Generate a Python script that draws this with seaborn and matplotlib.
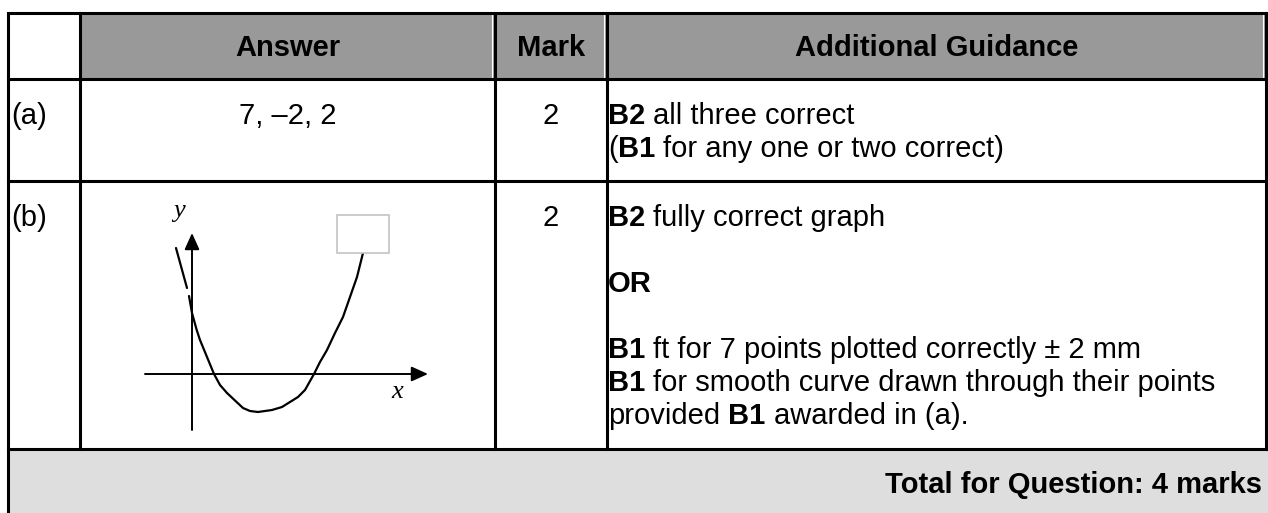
import matplotlib
matplotlib.use("Agg")
import matplotlib.pyplot as plt
from matplotlib.patches import Rectangle
import seaborn as sns
import pandas as pd

sns.set_theme(style="white")
plt.rcParams['font.family'] = ['Liberation Sans', 'DejaVu Sans']
plt.rcParams['text.color'] = 'black'

# ---- table content ----
col_heads = ["Answer", "Mark", "Additional Guidance"]
part_labels = ["(a)", "(b)"]
answers = ["7, \u20132, 2", ""]
marks = ["2", "2"]
guidance_a = [
    [("B2", "bold"), (" all three correct", "normal")],
    [("(", "normal"), ("B1", "bold"), (" for any one or two correct)", "normal")],
]
guidance_b = [
    [("B2", "bold"), (" fully correct graph", "normal")],
    [],
    [("OR", "bold")],
    [],
    [("B1", "bold"), (" ft for 7 points plotted correctly \u00b1 2 mm", "normal")],
    [("B1", "bold"), (" for smooth curve drawn through their points", "normal")],
    [("provided ", "normal"), ("B1", "bold"), (" awarded in (a).", "normal")],
]
total_text = "Total for Question: 4 marks"

# ---- sketch graph in part (b) (origin = axes crossing) ----
curve_x = [-1.6, -0.5,
           -0.3, 0.0, 0.47, 0.8, 2.2, 2.8, 3.5, 5.1, 5.8, 6.6, 8.0, 9.0, 9.8,
           10.6, 11.3, 12.2, 12.8, 13.5, 14.3, 15.1, 15.8, 16.5, 17.1]
curve_y = [12.6, 8.6,
           7.8, 6.1, 4.4, 3.4, 0.0, -1.1, -1.9, -3.4, -3.7, -3.8, -3.6, -3.3, -2.8,
           -2.3, -1.6, 0.0, 1.2, 2.4, 4.1, 5.7, 7.7, 9.7, 12.1]
curve_seg = [0, 0] + [1] * 23

W, H = 1268, 513
fig = plt.figure(figsize=(W / 100, H / 100), dpi=100)
ax = fig.add_axes([0, 0, 1, 1])
ax.set_xlim(0, W)
ax.set_ylim(H, 0)
ax.axis('off')
renderer = fig.canvas.get_renderer()

# grid geometry (pixels)
xs = [8, 80, 495, 607, 1266]
ys = [13, 79, 181, 449]
FS = 21
LW = 2.2

# fills
ax.add_patch(Rectangle((xs[1], ys[0]), xs[4] - xs[1], ys[1] - ys[0], fc='#999999', ec='none', zorder=0))
ax.add_patch(Rectangle((xs[0], ys[3]), W - xs[0], H - ys[3], fc='#dedede', ec='none', zorder=0))
for x in xs[2:]:
    ax.vlines(x - 3, ys[0], ys[1], color='white', lw=0.8, zorder=1)

# borders
for y in ys:
    ax.hlines(y, xs[0], xs[4], color='black', lw=LW, zorder=2, capstyle='projecting')
ax.vlines(xs[0], ys[0], H, color='black', lw=LW, zorder=2)
for x in xs[1:]:
    ax.vlines(x, ys[0], ys[3], color='black', lw=LW, zorder=2, capstyle='projecting')

# header
for i, h in enumerate(col_heads):
    cx = (xs[i + 1] + xs[i + 2]) / 2
    ax.text(cx, 56, h, ha='center', va='baseline', fontsize=FS, fontweight='bold', color='black')

sp = ax.text(0, 0, "a a", fontsize=FS)
sp2 = ax.text(0, 0, "aa", fontsize=FS)
space_w = sp.get_window_extent(renderer).width - sp2.get_window_extent(renderer).width
sp.remove()
sp2.remove()


def draw_runs(x, y, runs):
    for txt, wt in runs:
        lead = len(txt) - len(txt.lstrip(' '))
        trail = len(txt) - len(txt.rstrip(' '))
        x += lead * space_w
        body = txt.strip(' ')
        t = ax.text(x, y, body, fontsize=FS, fontweight=wt, va='baseline', ha='left', color='black')
        x += t.get_window_extent(renderer).width + trail * space_w


row_base = [124, 226]
line_gap = 33
for r in range(2):
    ax.text(xs[0] + 3, row_base[r], part_labels[r], fontsize=FS, va='baseline', color='black')
    if answers[r]:
        ax.text((xs[1] + xs[2]) / 2, row_base[r], answers[r], fontsize=FS, va='baseline',
                ha='center', color='black')
    ax.text((xs[2] + xs[3]) / 2, row_base[r], marks[r], fontsize=FS, va='baseline',
            ha='center', color='black')
    lines = guidance_a if r == 0 else guidance_b
    for k, runs in enumerate(lines):
        draw_runs(xs[3] + 1, row_base[r] + k * line_gap, runs)

ax.text(1262, 493, total_text, fontsize=FS, fontweight='bold', ha='right', va='baseline', color='black')

# ---- inset sketch graph (1 unit = 10 px, origin at px (192, 374)) ----
gx = fig.add_axes([xs[1] / W, (H - ys[3]) / H, (xs[2] - xs[1]) / W, (ys[3] - ys[2]) / H])
gx.set_xlim((xs[1] - 192) / 10, (xs[2] - 192) / 10)
gx.set_ylim((374 - ys[3]) / 10, (374 - ys[2]) / 10)
gx.axis('off')
gx.patch.set_alpha(0)

arrow = dict(arrowstyle="-|>,head_length=1.0,head_width=0.45", color="black", lw=1.4,
             shrinkA=0, shrinkB=0, mutation_scale=10)
gx.annotate("", xy=(23.6, 0), xytext=(-4.7, 0), arrowprops=arrow)
gx.annotate("", xy=(0, 14.1), xytext=(0, -5.6), arrowprops=arrow)

df = pd.DataFrame({"x": curve_x, "y": curve_y, "seg": curve_seg})
sns.lineplot(data=df, x="x", y="y", units="seg", estimator=None, sort=False,
             color="black", lw=1.6, ax=gx, legend=False)
gx.set_xlabel("")
gx.set_ylabel("")

gx.add_patch(Rectangle((14.5, 12.1), 5.2, 3.8, fc='white', ec='#c4c4c4', lw=1.2, zorder=5))
gx.text(-1.3, 16.3, "y", family="Liberation Serif", style="italic", fontsize=19,
        ha='center', va='center', color='black')
gx.text(20.5, -1.8, "x", family="Liberation Serif", style="italic", fontsize=19,
        ha='center', va='center', color='black')

fig.savefig("out.png", dpi=100)
